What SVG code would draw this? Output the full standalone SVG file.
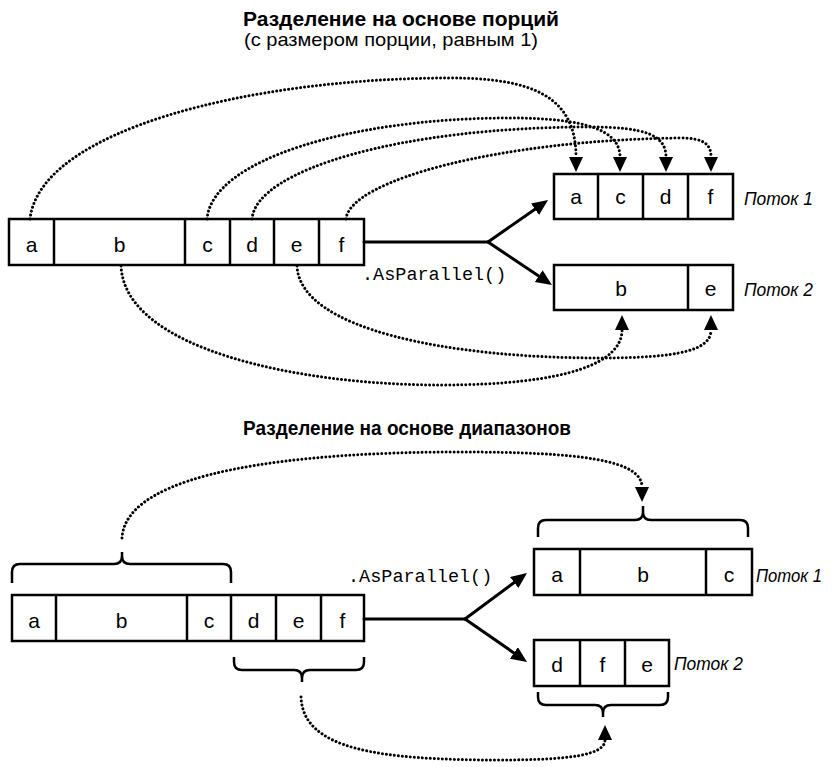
<svg xmlns="http://www.w3.org/2000/svg" width="832" height="767" viewBox="0 0 832 767">
<style>
  .box{fill:#fff;stroke:#000;stroke-width:2.5}
  .div{stroke:#000;stroke-width:2.5}
  .cell{font-family:"Liberation Sans",Arial,sans-serif;font-size:21px;text-anchor:middle;fill:#000}
  .lbl{font-family:"Liberation Sans",Arial,sans-serif;font-size:19px;font-style:italic;fill:#000}
  .title{font-family:"Liberation Sans",Arial,sans-serif;font-size:20px;font-weight:bold;fill:#000}
  .sub{font-family:"Liberation Sans",Arial,sans-serif;font-size:19px;fill:#000}
  .code{font-family:"Liberation Mono","Courier New",monospace;font-size:18.5px;fill:#000}
  .solid{fill:none;stroke:#000;stroke-width:3;stroke-linecap:round}
  .dot{fill:none;stroke:#000;stroke-width:3;stroke-linecap:round;stroke-dasharray:0.01 4}
  .brace{fill:none;stroke:#000;stroke-width:2.5;stroke-linejoin:round}
</style>
<defs>
  <marker id="solidHead" markerUnits="userSpaceOnUse" markerWidth="18" markerHeight="16" refX="0" refY="7" orient="auto">
    <path d="M0,0 L16,7 L0,14 z" fill="#000"/>
  </marker>
  <marker id="dotHead" markerUnits="userSpaceOnUse" markerWidth="17" markerHeight="16" refX="0" refY="7" orient="auto">
    <path d="M0,0 L15,7 L0,14 z" fill="#000"/>
  </marker>
</defs>

<!-- Titles -->
<text class="title" x="243" y="26" textLength="316" lengthAdjust="spacingAndGlyphs">Разделение на основе порций</text>
<text class="sub" x="244" y="46" textLength="294" lengthAdjust="spacingAndGlyphs">(с размером порции, равным 1)</text>
<text class="title" x="243" y="435" textLength="328" lengthAdjust="spacingAndGlyphs">Разделение на основе диапазонов</text>

<!-- ===== Top diagram ===== -->
<g id="src1">
  <rect class="box" x="9" y="219" width="355" height="46"/>
  <line class="div" x1="54" y1="219" x2="54" y2="265"/>
  <line class="div" x1="185" y1="219" x2="185" y2="265"/>
  <line class="div" x1="230" y1="219" x2="230" y2="265"/>
  <line class="div" x1="274" y1="219" x2="274" y2="265"/>
  <line class="div" x1="319" y1="219" x2="319" y2="265"/>
  <text class="cell" x="31.5" y="252">a</text>
  <text class="cell" x="119.5" y="252">b</text>
  <text class="cell" x="207.5" y="252">c</text>
  <text class="cell" x="252" y="252">d</text>
  <text class="cell" x="296.5" y="252">e</text>
  <text class="cell" x="341.5" y="252">f</text>
</g>
<g id="t1a">
  <rect class="box" x="554" y="174" width="179" height="45"/>
  <line class="div" x1="598" y1="174" x2="598" y2="219"/>
  <line class="div" x1="643" y1="174" x2="643" y2="219"/>
  <line class="div" x1="688" y1="174" x2="688" y2="219"/>
  <text class="cell" x="576" y="204">a</text>
  <text class="cell" x="620.5" y="204">c</text>
  <text class="cell" x="665.5" y="204">d</text>
  <text class="cell" x="710.5" y="204">f</text>
  <text class="lbl" x="744" y="205" textLength="69" lengthAdjust="spacingAndGlyphs">Поток 1</text>
</g>
<g id="t2a">
  <rect class="box" x="554" y="265" width="179" height="45"/>
  <line class="div" x1="688" y1="265" x2="688" y2="310"/>
  <text class="cell" x="621" y="296">b</text>
  <text class="cell" x="710.5" y="296">e</text>
  <text class="lbl" x="744" y="296" textLength="69" lengthAdjust="spacingAndGlyphs">Поток 2</text>
</g>
<text class="code" x="362" y="280">.AsParallel()</text>

<!-- ===== Bottom diagram ===== -->
<g id="src2">
  <rect class="box" x="12" y="595" width="352" height="46"/>
  <line class="div" x1="56" y1="595" x2="56" y2="641"/>
  <line class="div" x1="187" y1="595" x2="187" y2="641"/>
  <line class="div" x1="231" y1="595" x2="231" y2="641"/>
  <line class="div" x1="276" y1="595" x2="276" y2="641"/>
  <line class="div" x1="321" y1="595" x2="321" y2="641"/>
  <text class="cell" x="34" y="628">a</text>
  <text class="cell" x="121.5" y="628">b</text>
  <text class="cell" x="209" y="628">c</text>
  <text class="cell" x="253.5" y="628">d</text>
  <text class="cell" x="298.5" y="628">e</text>
  <text class="cell" x="342.5" y="628">f</text>
</g>
<g id="t1b">
  <rect class="box" x="534" y="549" width="218" height="46"/>
  <line class="div" x1="580" y1="549" x2="580" y2="595"/>
  <line class="div" x1="706" y1="549" x2="706" y2="595"/>
  <text class="cell" x="557" y="582">a</text>
  <text class="cell" x="643" y="582">b</text>
  <text class="cell" x="729" y="582">c</text>
  <text class="lbl" x="756" y="582" textLength="66" lengthAdjust="spacingAndGlyphs">Поток 1</text>
</g>
<g id="t2b">
  <rect class="box" x="534" y="640" width="135" height="46"/>
  <line class="div" x1="580" y1="640" x2="580" y2="686"/>
  <line class="div" x1="625" y1="640" x2="625" y2="686"/>
  <text class="cell" x="557" y="672">d</text>
  <text class="cell" x="602.5" y="672">f</text>
  <text class="cell" x="647" y="672">e</text>
  <text class="lbl" x="674" y="670" textLength="69" lengthAdjust="spacingAndGlyphs">Поток 2</text>
</g>
<text class="code" x="348" y="582">.AsParallel()</text>

<g id="braces">
  <path class="brace" d="M12,583 L12,572 Q12,564 20,564 L114,564 Q122,564 122,556 L122,552 M122,552 L122,556 Q122,564 130,564 L223,564 Q231,564 231,572 L231,583"/>
  <path class="brace" d="M234,657 L234,662 Q234,670 242,670 L294,670 Q302,670 302,678 L302,682 M302,682 L302,678 Q302,670 310,670 L356,670 Q364,670 364,662 L364,657"/>
  <path class="brace" d="M538,537 L538,528 Q538,520 546,520 L635,520 Q643,520 643,512 L643,506 M643,506 L643,512 Q643,520 651,520 L740,520 Q748,520 748,528 L748,537"/>
  <path class="brace" d="M538,692 L538,697 Q538,705 546,705 L595,705 Q603,705 603,713 L603,717 M603,717 L603,713 Q603,705 611,705 L660,705 Q668,705 668,697 L668,692"/>
</g>

<g id="connectors">
  <path class="solid" d="M364,242 L488,242"/>
  <path class="solid" d="M488,242 L535,209.2" marker-end="url(#solidHead)"/>
  <path class="solid" d="M488,242 L538.7,276.1" marker-end="url(#solidHead)"/>
  <path class="solid" d="M364,619 L465,619"/>
  <path class="solid" d="M465,619 L514.2,582.5" marker-end="url(#solidHead)"/>
  <path class="solid" d="M465,619 L513.9,652.9" marker-end="url(#solidHead)"/>

  <path class="dot" d="M30,219 C40,130 250,78 450,78 C530,78 576,95 576,157" marker-end="url(#dotHead)"/>
  <path class="dot" d="M207,219 C212,160 350,118 510,118 C585,118 620,130 620,157" marker-end="url(#dotHead)"/>
  <path class="dot" d="M252,219 C256,170 400,127 590,127 C645,127 666,135 666,157" marker-end="url(#dotHead)"/>
  <path class="dot" d="M346,219 C350,180 500,140 680,138 C705,138 711,145 711,157" marker-end="url(#dotHead)"/>
  <path class="dot" d="M121,266 C125,350 300,385 440,385 C570,385 622,362 622,330" marker-end="url(#dotHead)"/>
  <path class="dot" d="M297,266 C300,330 450,358 600,358 C680,358 711,350 711,330" marker-end="url(#dotHead)"/>

  <path class="dot" d="M122,538 C126,470 300,452 460,452 C580,452 642,460 642,487" marker-end="url(#dotHead)"/>
  <path class="dot" d="M301,697 C303,750 380,760 500,760 C570,760 605,755 605,740" marker-end="url(#dotHead)"/>
</g>
</svg>
